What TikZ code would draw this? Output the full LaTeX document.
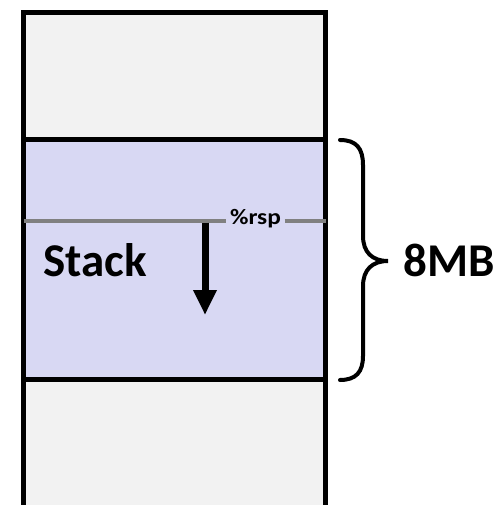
\documentclass[tikz,border=0pt]{standalone}
\usepackage{fontspec}
\setmainfont{Carlito}
\usetikzlibrary{arrows.meta}
\definecolor{upper}{RGB}{242,242,242}
\definecolor{stackc}{RGB}{216,216,243}
\definecolor{ptr}{RGB}{128,128,128}
\tikzset{
  seg/.style={line width=5pt, draw=black},
  big/.style={font=\bfseries\fontsize{47}{47}\selectfont, inner sep=0pt, anchor=base west},
  small/.style={font=\bfseries\fontsize{22}{22}\selectfont, inner sep=0pt, inner xsep=3pt},
  ptrline/.style={line width=4pt, draw=ptr},
  brace/.style={line width=4pt, line cap=round}
}
\begin{document}
\begin{tikzpicture}[x=1pt,y=-1pt]
\useasboundingbox (0,0) rectangle (495,505);
\begin{scope}
\clip (0,0) rectangle (495,505);
\fill[upper] (23.5,12.5) rectangle (325.5,140);
\fill[stackc] (23.5,140) rectangle (325.5,379.5);
\fill[upper] (23.5,379.5) rectangle (325.5,520);
\draw[seg] (23.5,520) -- (23.5,12.5) -- (325.5,12.5) -- (325.5,520);
\draw[seg] (23.5,140) -- (325.5,140);
\draw[seg] (23.5,379.5) -- (325.5,379.5);
\end{scope}
\coordinate (pl) at (23.5,220.5);
\coordinate (pr) at (325.5,220.5);
\node[small, xscale=1.15, anchor=base] (rsp) at (255.5,224.5) {\%rsp};
\draw[ptrline] (pl) -- (pl -| rsp.west);
\draw[ptrline] (pr -| rsp.east) -- (pr);
\coordinate (a0) at (205,222.5);
\coordinate (a1) at (205,315);
\draw[line width=7pt, -{Triangle[width=22pt,length=25pt]}] (a0) -- (a1);
\node[big] (stack) at (43,276) {Stack};
\node[big] (mb) at (403,276) {8MB};
\draw[brace] (340,140) .. controls (356,140) and (363,148) .. (363,165)
  -- (363,236) .. controls (363,252) and (372,261) .. (388,261)
  .. controls (372,261) and (363,270) .. (363,286)
  -- (363,356) .. controls (363,372) and (356,380) .. (340,380);
\end{tikzpicture}
\end{document}
